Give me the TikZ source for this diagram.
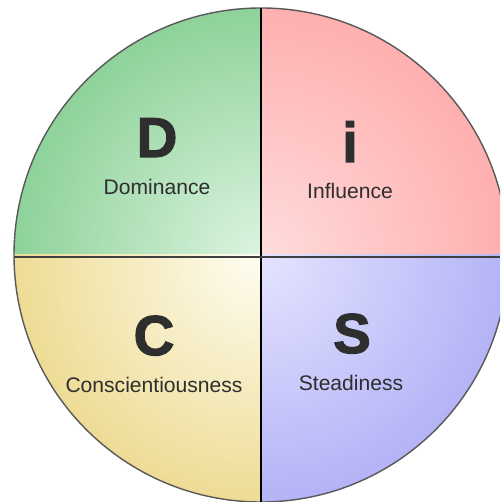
\documentclass[tikz,border=0pt]{standalone}
\usepackage{fontspec}
\setmainfont{Liberation Sans}
\newfontfamily\heavyfont{Liberation Sans}[BoldFeatures={FakeBold=2.2}]
\usepackage{tikz}

\definecolor{dgreen}{HTML}{8ED29A}
\definecolor{lgreen}{HTML}{DDF4E0}
\definecolor{dred}{HTML}{FFAFAF}
\definecolor{lred}{HTML}{FFDCDC}
\definecolor{dyellow}{HTML}{EEDC95}
\definecolor{lyellow}{HTML}{FEFDF2}
\definecolor{dblue}{HTML}{B3B3F7}
\definecolor{lblue}{HTML}{E4E4FF}
\definecolor{ink}{HTML}{2E2E2E}

\tikzset{
	letter/.style={text=ink, font=\heavyfont\fontsize{32}{32}\selectfont\bfseries, anchor=base},
	label/.style={text=ink, font=\fontsize{12}{12}\selectfont, anchor=base}
}

\begin{document}
\begin{tikzpicture}[x=0.02cm, y=-0.02cm]
		\useasboundingbox (0,0) rectangle (500,502);
		\clip (0,0) rectangle (500,502);
		\coordinate (c) at (261,255);
		% quadrants
		\begin{scope}
			\clip (c) rectangle (0,0);
			\shade[inner color=lgreen, outer color=dgreen] (c) circle (247);
		\end{scope}
		\begin{scope}
			\clip (c) rectangle (500,0);
			\shade[inner color=lred, outer color=dred] (c) circle (247);
		\end{scope}
		\begin{scope}
			\clip (c) rectangle (0,502);
			\shade[inner color=lyellow, outer color=dyellow] (c) circle (247);
		\end{scope}
		\begin{scope}
			\clip (c) rectangle (500,502);
			\shade[inner color=lblue, outer color=dblue] (c) circle (247);
		\end{scope}
		\draw[line width=0.8pt, draw=black!65] (c) circle (247);
		\coordinate (top) at (261,8);
		\coordinate (bot) at (261,502);
		\coordinate (lft) at (14,257);
		\coordinate (rgt) at (500,257);
		\path [draw, line width=0.8pt] (top)--(bot);
		\path [draw, line width=1pt, draw=black!75] (lft)--(rgt);
		% letters
		\node[letter] (D) at (157,157) {D};
		\node[letter] (I) at (350,162) {i};
		\node[letter] (C) at (154,355) {C};
		\node[letter] (S) at (352,353) {S};
		\node[label] (dom) at (157,195) {Dominance};
		\node[label] (inf) at (350,199) {Influence};
		\node[label] (con) at (154,392) {Conscientiousness};
		\node[label] (ste) at (351,390) {Steadiness};
	\end{tikzpicture}
\end{document}
